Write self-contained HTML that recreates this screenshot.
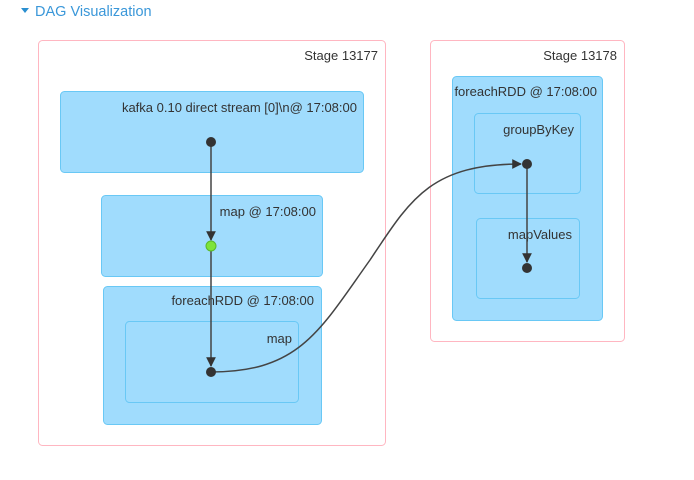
<!DOCTYPE html>
<html><head><style>
body{margin:0;background:#fff;width:694px;height:475px;overflow:hidden;font-family:"Liberation Sans",sans-serif}
</style></head><body>
<svg width="694" height="475" xmlns="http://www.w3.org/2000/svg" font-family="Liberation Sans, sans-serif">
<defs><marker id="a" viewBox="0 0 10 10" refX="9" refY="5" markerWidth="6.5" markerHeight="6.5" orient="auto"><path d="M0,0L10,5L0,10z" fill="#333"/></marker></defs>
<path d="M21,8 L29,8 L25,13z" fill="#2a8fd0"/>
<text x="35" y="16" font-size="14.5" fill="#3a97d9">DAG Visualization</text>
<rect x="38.5" y="40.5" width="347" height="405" rx="4" fill="#fff" stroke="#ffb6c1"/>
<text x="378" y="60" font-size="13" fill="#333" text-anchor="end">Stage 13177</text>
<rect x="430.5" y="40.5" width="194" height="301" rx="4" fill="#fff" stroke="#ffb6c1"/>
<text x="617" y="60" font-size="13" fill="#333" text-anchor="end">Stage 13178</text>
<g fill="#a0dcfd" stroke="#69c8f5">
<rect x="60.5" y="91.5" width="303" height="81" rx="4"/>
<rect x="101.5" y="195.5" width="221" height="81" rx="4"/>
<rect x="103.5" y="286.5" width="218" height="138" rx="4"/>
<rect x="125.5" y="321.5" width="173" height="81" rx="4"/>
<rect x="452.5" y="76.5" width="150" height="244" rx="4"/>
<rect x="474.5" y="113.5" width="106" height="80" rx="4"/>
<rect x="476.5" y="218.5" width="103" height="80" rx="4"/>
</g>
<g font-size="13" fill="#333" text-anchor="end">
<text x="357" y="112">kafka 0.10 direct stream [0]\n@ 17:08:00</text>
<text x="316" y="216">map @ 17:08:00</text>
<text x="314" y="305">foreachRDD @ 17:08:00</text>
<text x="292" y="343">map</text>
<text x="597" y="96">foreachRDD @ 17:08:00</text>
<text x="574" y="134">groupByKey</text>
<text x="572" y="239">mapValues</text>
</g>
<g stroke="#444" stroke-width="1.5" fill="none">
<path d="M211,142 L211,240" marker-end="url(#a)"/>
<path d="M211,246 L211,366" marker-end="url(#a)"/>
<path d="M527,164 L527,262" marker-end="url(#a)"/>
<path d="M211,372 C300,372 320,330 370,260 C410,200 430,164 521,164" marker-end="url(#a)"/>
</g>
<circle cx="211" cy="142" r="5" fill="#333"/>
<circle cx="211" cy="246" r="5" fill="#7ee33a" stroke="#5ab82a"/>
<circle cx="211" cy="372" r="5" fill="#333"/>
<circle cx="527" cy="164" r="5" fill="#333"/>
<circle cx="527" cy="268" r="5" fill="#333"/>
</svg>
</body></html>
